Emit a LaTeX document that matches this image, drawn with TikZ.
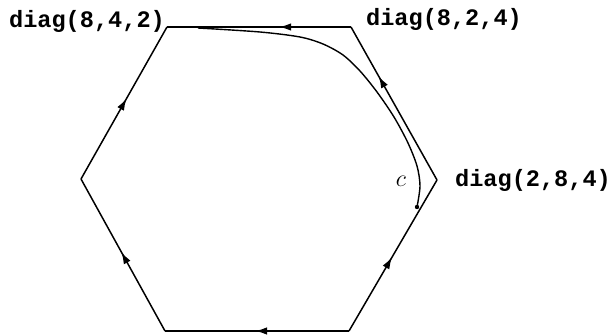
\documentclass[tikz,border=0pt]{standalone}
\usepackage{fontspec}
\newfontfamily\labfont{Liberation Mono}
\usetikzlibrary{arrows.meta,decorations.markings}
\tikzset{
  edge/.style={line width=0.75pt, line join=miter},
  arr/.style={postaction={decorate,decoration={markings,
     mark=at position #1 with {\arrow{Latex[length=6pt,width=3.8pt]}}}}},
  lab/.style={font=\fontsize{11.8}{13}\selectfont\labfont\bfseries, inner sep=0pt},
  curve/.style={line width=0.7pt},
}
\begin{document}
\begin{tikzpicture}[x=0.5pt,y=-0.5pt]
\useasboundingbox (0,0) rectangle (616,336);
\coordinate (TL) at (167,27);
\coordinate (TR) at (351,27);
\coordinate (R) at (437,180);
\coordinate (BR) at (349,331);
\coordinate (BL) at (165,331);
\coordinate (L) at (81,179);
\draw[edge,arr=0.39] (TR) -- (TL);
\draw[edge,arr=0.51] (BR) -- (BL);
\draw[edge,arr=0.52] (BL) -- (L);
\draw[edge,arr=0.53] (L) -- (TL);
\draw[edge,arr=0.49] (BR) -- (R);
\draw[edge,arr=0.68] (R) -- (TR);
\node[lab] (a) at (87,21) {diag(8,4,2)};
\node[lab] (b) at (444,19) {diag(8,2,4)};
\node[lab] (d) at (533,180) {diag(2,8,4)};
\coordinate (cs) at (198,28);
\coordinate (ce) at (417,207);
\draw[curve] plot[smooth,tension=0.5] coordinates {(cs) (260,32) (300,37) (323,44) (343,55) (360,71) (377,92) (394,117) (408,143) (417,166) (420,186) (ce)};
\fill (ce) circle (2.2);
\node[font=\fontsize{13}{15}\selectfont, inner sep=0pt] (c) at (401,181) {$c$};
\end{tikzpicture}
\end{document}
